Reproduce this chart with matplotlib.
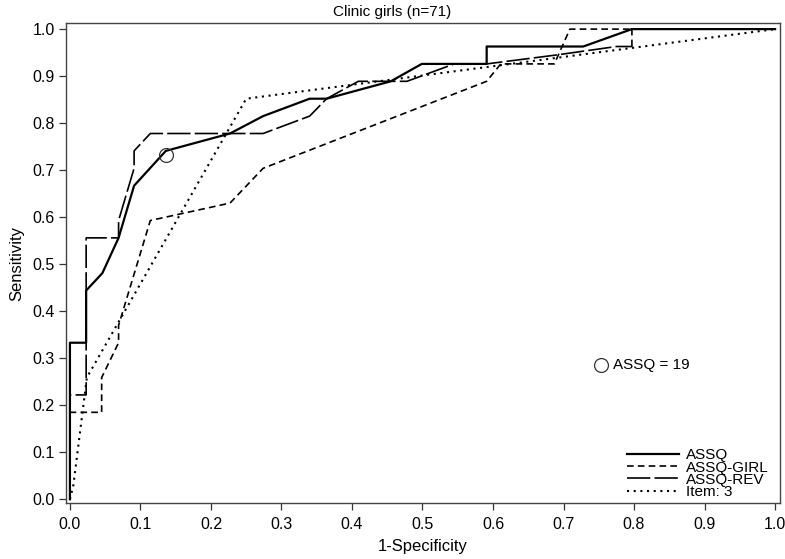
import numpy as np
import matplotlib
matplotlib.use("Agg")
import matplotlib.pyplot as plt

plt.rcParams['font.family'] = ['Liberation Sans', 'DejaVu Sans']

# --- ROC curves (1-specificity, sensitivity) ---
assq_x = [0.0, 0.0, 0.023, 0.023, 0.046, 0.069, 0.091, 0.136, 0.227, 0.274,
          0.340, 0.364, 0.455, 0.499, 0.591, 0.591, 0.728, 0.797, 1.0]
assq_y = [0.0, 0.333, 0.333, 0.444, 0.481, 0.556, 0.667, 0.741, 0.778, 0.815,
          0.852, 0.852, 0.889, 0.926, 0.926, 0.963, 0.963, 1.0, 1.0]

girl_x = [0.0, 0.0, 0.045, 0.045, 0.069, 0.069, 0.114, 0.227, 0.274, 0.591,
          0.611, 0.687, 0.709, 1.0]
girl_y = [0.0, 0.185, 0.185, 0.259, 0.333, 0.370, 0.593, 0.630, 0.704, 0.889,
          0.926, 0.926, 1.0, 1.0]

rev_x = [0.0, 0.0, 0.023, 0.023, 0.069, 0.069, 0.091, 0.091, 0.114, 0.274,
         0.340, 0.364, 0.409, 0.478, 0.545, 0.591, 0.690, 0.775, 0.797, 0.797, 1.0]
rev_y = [0.0, 0.222, 0.222, 0.556, 0.556, 0.593, 0.704, 0.741, 0.778, 0.778,
         0.815, 0.852, 0.889, 0.889, 0.926, 0.926, 0.945, 0.963, 0.963, 1.0, 1.0]

item3_x = [0.0, 0.005, 0.024, 0.250, 1.0]
item3_y = [0.0, 0.031, 0.259, 0.852, 1.0]

cut_x, cut_y = 0.136, 0.732   # ASSQ = 19 cut-off
ticks = np.round(np.arange(0, 1.01, 0.1), 1)

fig = plt.figure(figsize=(7.85, 5.59), dpi=100)
ax = fig.add_axes([65.7 / 785, 55.7 / 559, (780 - 65.7) / 785, (536 - 55.7) / 559])

ax.plot(assq_x, assq_y, color='black', lw=1.6, label='ASSQ')
ax.plot(girl_x, girl_y, color='black', lw=1.2, dashes=(4, 2.5), label='ASSQ-GIRL')
ax.plot(rev_x, rev_y, color='black', lw=1.2, dashes=(14, 2.5), label='ASSQ-REV')
ax.plot(item3_x, item3_y, color='black', lw=1.5, dashes=(1, 2.2), label='Item: 3')
ax.plot([cut_x], [cut_y], 'o', mfc='none', mec='#333333', ms=10, mew=0.9)

# key for the cut-off circle
ax.plot([0.753], [0.286], 'o', mfc='none', mec='#333333', ms=10, mew=0.9)
ax.text(0.77, 0.286, 'ASSQ = 19', fontsize=11, va='center', ha='left')

ax.set_xlim(-0.006, 1.007)
ax.set_ylim(-0.0085, 1.013)
ax.set_xticks(ticks)
ax.set_yticks(ticks)
ax.set_xticklabels([f"{t:.1f}" for t in ticks])
ax.set_yticklabels([f"{t:.1f}" for t in ticks])
ax.tick_params(direction='out', length=5, width=0.9, colors='#333333',
               labelcolor='black', labelsize=11.5, pad=3)
ax.tick_params(axis='x', pad=5)
for s in ax.spines.values():
    s.set_color('#444444')
    s.set_linewidth(1.0)

ax.set_xlabel('1-Specificity', fontsize=12, labelpad=5)
ax.set_ylabel('Sensitivity', fontsize=12, labelpad=6)
fig.text(0.5, 1 - 12 / 559, 'Clinic girls (n=71)', fontsize=11, ha='center', va='center')

leg = ax.legend(loc='lower left', bbox_to_anchor=(627 / 785, 60 / 559),
                bbox_transform=fig.transFigure, frameon=False, fontsize=11,
                borderpad=0, borderaxespad=0, labelspacing=-0.12,
                handlelength=3.4, handletextpad=0.45)

fig.savefig('out.png', dpi=100)
